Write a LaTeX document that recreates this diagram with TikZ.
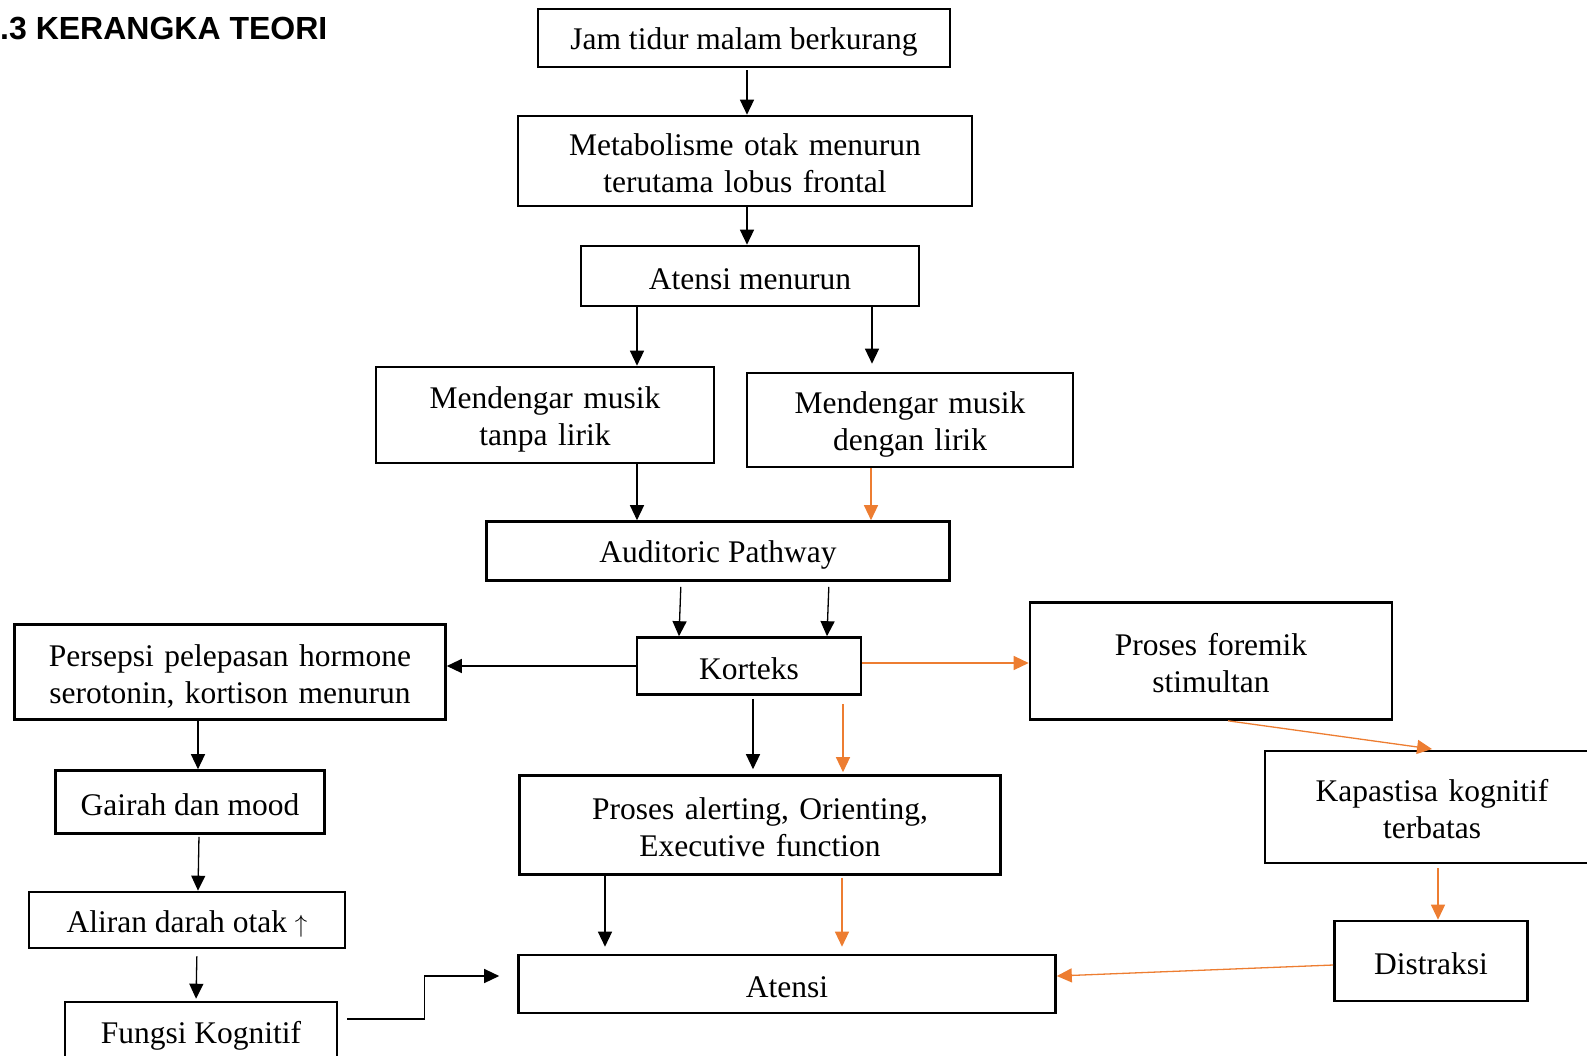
\documentclass[tikz,border=0pt]{standalone}
\usepackage{fontspec}
\setmainfont{Liberation Serif}
\newfontfamily\headfont{Liberation Sans}
\usetikzlibrary{arrows.meta}
\definecolor{arrorange}{RGB}{237, 125, 49}
\tikzstyle{box} = [draw=black, line width=2.6pt, align=center, inner sep=0pt,
    font=\fontsize{31.5}{37}\selectfont,
    execute at begin node={\rule{0pt}{30pt}}, execute at end node={\rule[-4pt]{0pt}{4pt}}]
\tikzstyle{arrow} = [line width=1.3pt, -{Triangle[length=15pt,width=14pt]}]
\tikzstyle{oarrow} = [arrow, arrorange]

\begin{document}
\begin{tikzpicture}[x=1pt, y=-1pt]
        \useasboundingbox (0,0) rectangle (1587,1055);

        % Title
        \node (title) at (0,29) [anchor=west, inner sep=0pt, font=\headfont\bfseries\fontsize{32}{38}\selectfont] {.3 KERANGKA TEORI};

        % Middle column
        \node (jam) at (744,38) [box, minimum width=412pt, minimum height=58pt] {Jam tidur malam berkurang};
        \node (meta) at (745,161) [box, minimum width=454pt, minimum height=90pt, text width=440pt] {Metabolisme otak menurun\\terutama lobus frontal};
        \node (atmen) at (750,276) [box, minimum width=338pt, minimum height=60pt] {Atensi menurun};
        \node (tanpa) at (545,415) [box, minimum width=338pt, minimum height=96pt, text width=320pt] {Mendengar musik\\tanpa lirik};
        \node (dengan) at (910,420) [box, minimum width=326pt, minimum height=94pt, text width=310pt] {Mendengar musik\\dengan lirik};
        \node (path) at (718,551) [box, minimum width=463pt, minimum height=59pt] {Auditoric Pathway};
        \node (korteks) at (749,666) [box, minimum width=224pt, minimum height=57pt] {Korteks};
        \node (alert) at (760,825) [box, minimum width=481pt, minimum height=99pt, text width=465pt] {Proses alerting, Orienting,\\Executive function};
        \node (atensi) at (787,984) [box, minimum width=537pt, minimum height=58pt] {Atensi};

        % Left column
        \node (persepsi) at (230,672) [box, minimum width=431pt, minimum height=95pt, text width=420pt] {Persepsi pelepasan hormone\\serotonin, kortison menurun};
        \node (gairah) at (190,802) [box, minimum width=269pt, minimum height=63pt] {Gairah dan mood};
        \node (aliran) at (187,920) [box, minimum width=316pt, minimum height=56pt] {Aliran darah otak $\uparrow$};
        \node (fungsi) at (201,1032) [box, minimum width=272pt, minimum height=60pt] {Fungsi Kognitif};

        % Right column
        \node (foremik) at (1211,661) [box, minimum width=362pt, minimum height=117pt, text width=345pt] {Proses foremik\\stimultan};
        \node (kapasitas) at (1432,807) [box, minimum width=334pt, minimum height=112pt, text width=320pt] {Kapastisa kognitif\\terbatas};
        \node (distraksi) at (1431,961) [box, minimum width=193pt, minimum height=80pt] {Distraksi};

        % Arrows, top part
        \draw [arrow, shorten <=2pt] ([xshift=3pt]jam.south) -- ([xshift=3pt]jam.south |- meta.north);
        \draw [arrow] ([xshift=2pt]meta.south) -- ([xshift=2pt]meta.south |- atmen.north);
        \draw [arrow] ([xshift=-113pt]atmen.south) -- ([xshift=-113pt]atmen.south |- tanpa.north);
        \draw [arrow, shorten >=8pt] ([xshift=122pt]atmen.south) -- ([xshift=122pt]atmen.south |- dengan.north);
        \draw [arrow] ([xshift=92pt]tanpa.south) -- ([xshift=92pt]tanpa.south |- path.north);
        \draw [oarrow] ([xshift=-39pt]dengan.south) -- ([xshift=-39pt]dengan.south |- path.north);
        \draw [arrow, shorten <=5pt] ([xshift=-37pt]path.south) -- ([xshift=-70pt]korteks.north);
        \draw [arrow, shorten <=5pt] ([xshift=111pt]path.south) -- ([xshift=78pt]korteks.north);

        % Arrows out of Korteks
        \draw [arrow] (korteks.west) -- (korteks.west -| persepsi.east);
        \draw [oarrow] ([yshift=3pt]korteks.east) -- ([yshift=3pt]korteks.east -| foremik.west);
        \draw [arrow, shorten <=3pt, shorten >=5pt] ([xshift=4pt]korteks.south) -- ([xshift=4pt]korteks.south |- alert.north);
        \draw [oarrow, shorten <=8pt, shorten >=2pt] ([xshift=94pt]korteks.south) -- ([xshift=94pt]korteks.south |- alert.north);

        % Right side
        \draw [oarrow, shorten >=5pt] ([xshift=17pt]foremik.south) -- ([xshift=5pt]kapasitas.north);
        \draw [oarrow, shorten <=4pt] ([xshift=6pt]kapasitas.south) -- ([xshift=6pt]kapasitas.south |- distraksi.north);
        \draw [oarrow] ([yshift=-4pt]distraksi.west) -- ([yshift=8pt]atensi.east);

        % Into Atensi
        \draw [arrow, shorten >=7pt] ([xshift=-155pt]alert.south) -- ([xshift=-155pt]alert.south |- atensi.north);
        \draw [oarrow, shorten <=2pt, shorten >=7pt] ([xshift=82pt]alert.south) -- ([xshift=82pt]alert.south |- atensi.north);

        % Left side
        \draw [arrow] ([xshift=-32pt]persepsi.south) -- ([xshift=8pt]gairah.north);
        \draw [arrow, shorten <=2pt] ([xshift=9pt]gairah.south) -- ([xshift=11pt]aliran.north);
        \draw [arrow, shorten <=7pt, shorten >=2pt] ([xshift=10pt]aliran.south) -- ([xshift=-5pt]fungsi.north);
        \draw [arrow, shorten <=9pt, shorten >=18pt] ([yshift=13pt]fungsi.east) -- ++(86,0) |- ([yshift=8pt]atensi.west);
\end{tikzpicture}
\end{document}
